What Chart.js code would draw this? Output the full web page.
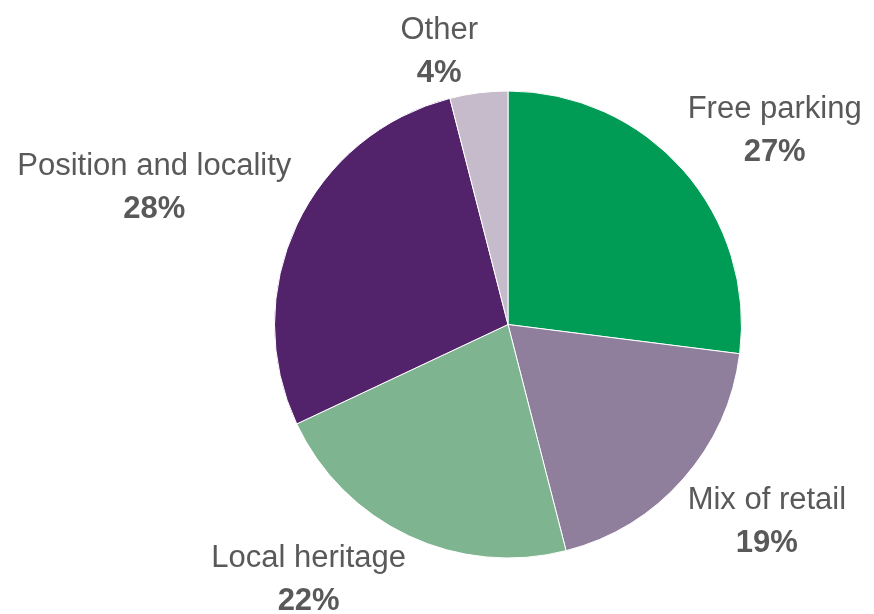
<!DOCTYPE html>
<html>
<head>
<meta charset="utf-8">
<style>
  html, body { margin: 0; padding: 0; background: #ffffff; }
  #wrap { width: 874px; height: 614px; position: relative; }
</style>
<script src="https://cdn.jsdelivr.net/npm/chart.js@4/dist/chart.umd.min.js"></script>
</head>
<body>
<div id="wrap"><canvas id="pie"></canvas></div>
<script>
/* ─── Data ──────────────────────────────────────────────────────────────────── */

const categories = ['Free parking', 'Mix of retail', 'Local heritage', 'Position and locality', 'Other'];
const shares     = [27, 19, 22, 28, 4];
const colours    = ['#009b55', '#8f7e9c', '#7eb490', '#52226a', '#c5bbcb'];

/* ─── Label plugin – outside-end labels, two lines ─────────────────────────── */

const LABEL_FONT = '31px "Liberation Sans", Arial, sans-serif';
const PCT_FONT   = 'bold 31px "Liberation Sans", Arial, sans-serif';
const LINE_GAP   = 43;

const outsideLabels = {
  id: 'outsideLabels',
  afterDatasetsDraw(chart) {
    const ctx  = chart.ctx;
    const meta = chart.getDatasetMeta(0);

    ctx.save();
    ctx.fillStyle    = '#595959';
    ctx.textAlign    = 'center';
    ctx.textBaseline = 'alphabetic';

    meta.data.forEach((arc, i) => {
      const { x, y, startAngle, endAngle, outerRadius } = arc.getProps(
        ['x', 'y', 'startAngle', 'endAngle', 'outerRadius'], true);
      const mid = (startAngle + endAngle) / 2;
      const dx  = Math.cos(mid);
      const dy  = Math.sin(mid);

      ctx.font = LABEL_FONT;
      const w1 = ctx.measureText(categories[i]).width;
      ctx.font = PCT_FONT;
      const w2 = ctx.measureText(shares[i] + '%').width;
      const w  = Math.max(w1, w2);
      const h  = LINE_GAP + 31;

      // corner of the label box nearest the pie sits just outside the rim
      const px  = x + dx * (outerRadius + 6);
      const py  = y + dy * (outerRadius + 6);
      const cx  = dx >= 0 ? px + w / 2 : px - w / 2;
      const top = dy >= 0 ? py : py - h;

      ctx.font = LABEL_FONT;
      ctx.fillText(categories[i], cx, top + 26);
      ctx.font = PCT_FONT;
      ctx.fillText(shares[i] + '%', cx, top + 26 + LINE_GAP);
    });

    ctx.restore();
  },
};

/* ─── Chart ─────────────────────────────────────────────────────────────────── */

new Chart(document.getElementById('pie').getContext('2d'), {
  type: 'pie',
  data: {
    labels: categories,
    datasets: [{
      data:            shares,
      backgroundColor: colours,
      borderColor:     '#ffffff',
      borderWidth:     1,
    }],
  },
  options: {
    responsive:          true,
    maintainAspectRatio: false,
    animation:           false,
    layout: { padding: { top: 90, bottom: 55, left: 274, right: 132 } },
    plugins: {
      legend:  { display: false },
      tooltip: { enabled: false },
    },
  },
  plugins: [outsideLabels],
});
</script>
</body>
</html>
